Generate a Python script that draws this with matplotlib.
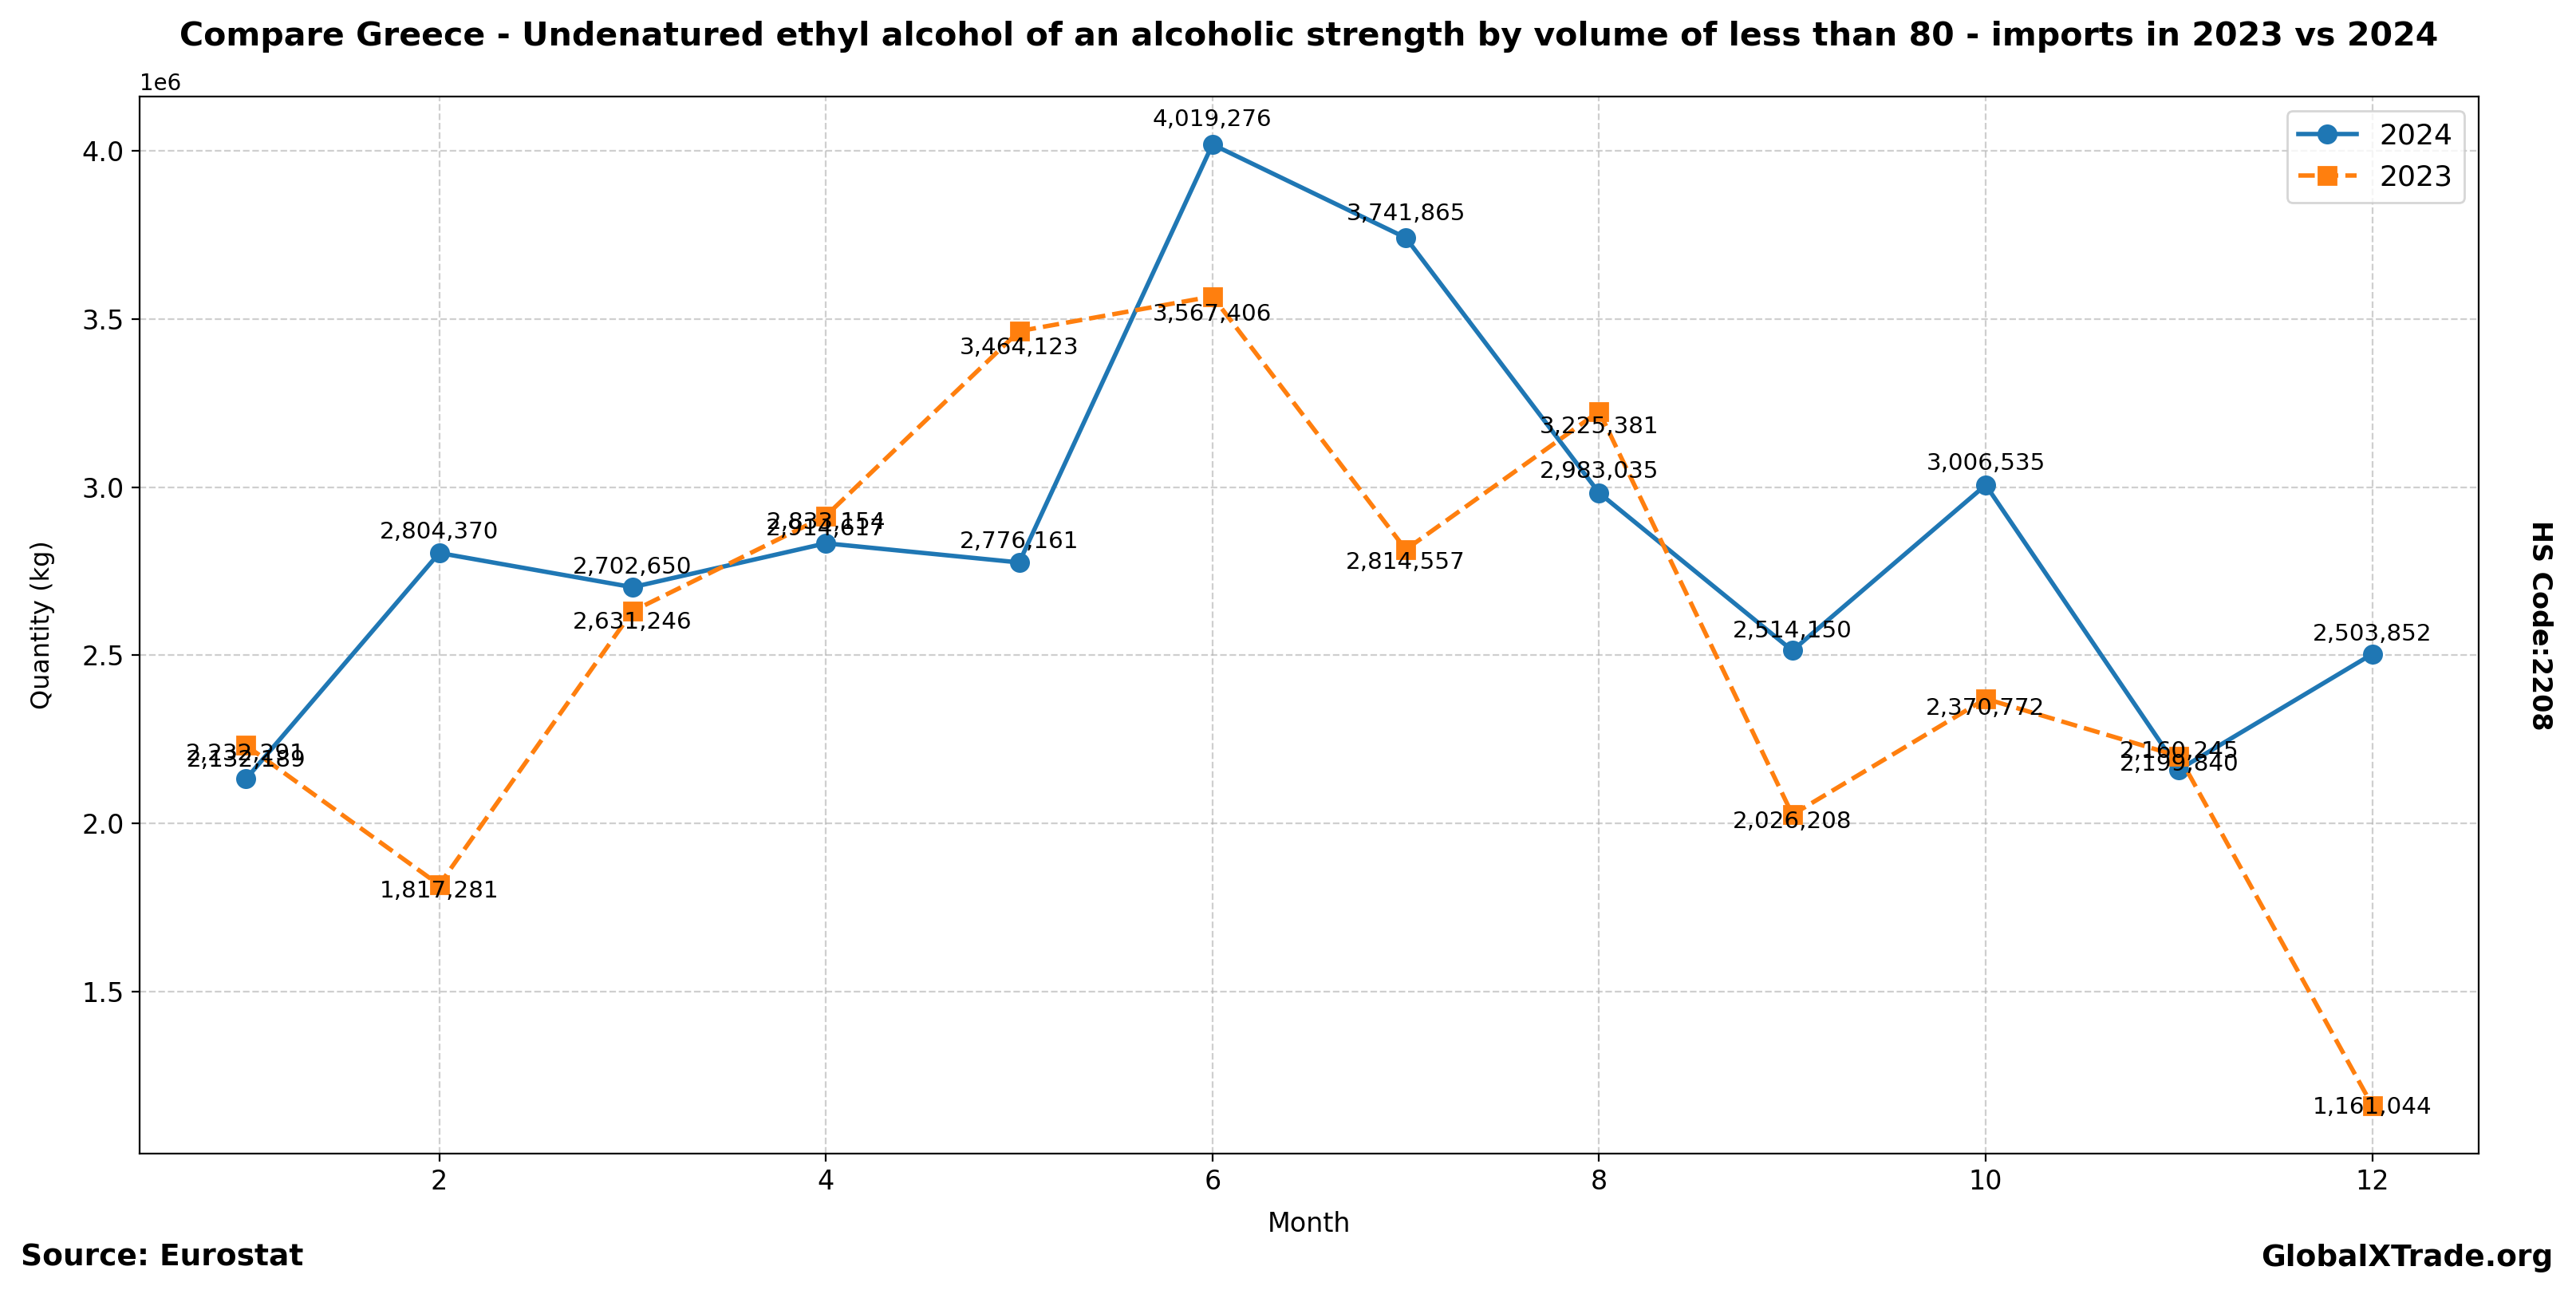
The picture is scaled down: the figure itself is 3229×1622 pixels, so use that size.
import matplotlib
matplotlib.use("Agg")
import matplotlib.pyplot as plt

months = [1, 2, 3, 4, 5, 6, 7, 8, 9, 10, 11, 12]
qty_2024 = [2132189, 2804370, 2702650, 2833154, 2776161, 4019276,
            3741865, 2983035, 2514150, 3006535, 2160245, 2503852]
qty_2023 = [2232291, 1817281, 2631246, 2914617, 3464123, 3567406,
            2814557, 3225381, 2026208, 2370772, 2199840, 1161044]

title = ("Compare Greece - Undenatured ethyl alcohol of an alcoholic strength "
         "by volume of less than 80 - imports in 2023 vs 2024")

fig = plt.figure(figsize=(16.145, 8.11), dpi=200)
ax = fig.add_axes([0.0542, 0.1085, 0.908, 0.817])

ax.plot(months, qty_2024, marker='o', linestyle='-', color='#1f77b4',
        label='2024', markersize=8, linewidth=2)
ax.plot(months, qty_2023, marker='s', linestyle='--', color='#ff7f0e',
        label='2023', markersize=8, linewidth=2)

# labels: 2024 above the points, 2023 below
for m, v in zip(months, qty_2024):
    ax.text(m, v * 1.01, f"{v:,}", ha='center', va='bottom', fontsize=10.6)
for m, v in zip(months, qty_2023):
    ax.text(m, v * 0.98, f"{v:,}", ha='center', va='baseline', fontsize=10.6)

ax.set_title(title, fontsize=14.8, fontweight='bold', pad=23)
ax.set_xlabel("Month", fontsize=12, labelpad=7)
ax.set_ylabel("Quantity (kg)", fontsize=11.5, labelpad=12)
ax.tick_params(labelsize=12)
ax.grid(True, linestyle='--', alpha=0.6)
ax.legend(loc='upper right', fontsize=13)

fig.text(0.986, 0.517, "HS Code:2208", rotation=-90, ha='center', va='center',
         fontsize=12, fontweight='bold')
fig.text(0.008, 0.028, "Source: Eurostat", ha='left', va='center',
         fontsize=13.5, fontweight='bold')
fig.text(0.991, 0.028, "GlobalXTrade.org", ha='right', va='center',
         fontsize=13.5, fontweight='bold')

fig.savefig("out.png", dpi=200)
